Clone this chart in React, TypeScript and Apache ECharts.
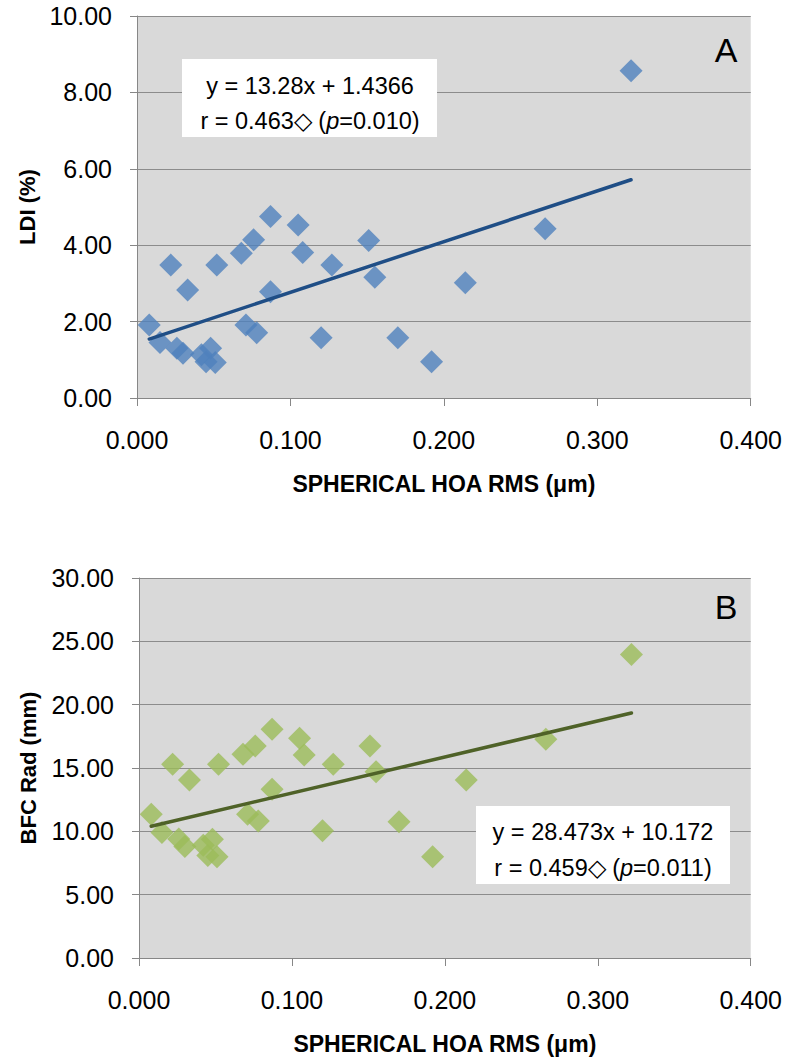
import React, { useEffect, useRef } from "react";
import * as echarts from "echarts";

// Spherical HOA RMS (µm) for each eye
const hoaRms = [
  0.008, 0.015, 0.022, 0.026, 0.030, 0.033, 0.042, 0.045, 0.048, 0.051,
  0.052, 0.068, 0.071, 0.076, 0.078, 0.087, 0.087, 0.105, 0.108, 0.120,
  0.127, 0.151, 0.155, 0.170, 0.192, 0.214, 0.266, 0.322,
];
// Panel A: LDI (%)
const ldiValues = [
  1.91, 1.45, 3.48, 1.30, 1.17, 2.83, 1.13, 0.95, 1.30, 0.93,
  3.48, 3.79, 1.91, 4.14, 1.71, 4.75, 2.78, 4.53, 3.81, 1.58,
  3.48, 4.12, 3.16, 1.58, 0.95, 3.02, 4.43, 8.57,
];
// Panel B: BFC Rad (mm)
const bfcValues = [
  11.35, 9.9, 15.3, 9.4, 8.8, 14.05, 8.9, 8.1, 9.37, 8.0,
  15.3, 16.08, 11.35, 16.74, 10.82, 18.05, 13.32, 17.35, 16.03, 10.05,
  15.29, 16.74, 14.71, 10.76, 8.0, 14.05, 17.26, 23.97,
];
const fitA = { slope: 13.28, intercept: 1.4366 };
const fitB = { slope: 28.473, intercept: 10.172 };
const xTickStep = 0.1;
const yTickStepA = 2;
const yTickStepB = 5;

const FONT = "'Liberation Sans', Arial, sans-serif";

function trend(fit: { slope: number; intercept: number }) {
  const lo = Math.min(...hoaRms);
  const hi = Math.max(...hoaRms);
  return [
    [lo, fit.slope * lo + fit.intercept],
    [hi, fit.slope * hi + fit.intercept],
  ];
}

export default function App() {
  const ref = useRef<HTMLDivElement>(null);
  useEffect(() => {
    document.body.style.margin = "0";
    if (!ref.current) return;
    const chart = echarts.init(ref.current, undefined, { renderer: "svg" });

    const axisGray = "#878787";
    const xAxisBase = (gridIndex: number) => ({
      type: "value",
      gridIndex,
      min: 0,
      max: 0.4,
      interval: xTickStep,
      name: "SPHERICAL HOA RMS (μm)",
      nameLocation: "middle",
      nameGap: 74,
      nameTextStyle: { fontFamily: FONT, fontSize: 23, fontWeight: "bold", color: "#000" },
      axisLine: { show: true, lineStyle: { color: axisGray, width: 1 } },
      axisTick: { show: true, length: 8, lineStyle: { color: axisGray } },
      axisLabel: {
        margin: 29,
        fontFamily: FONT,
        fontSize: 25,
        color: "#000",
        formatter: (v: number) => v.toFixed(3),
      },
      splitLine: { show: false },
    });
    const yAxisBase = (gridIndex: number, max: number, interval: number, name: string, gap: number) => ({
      type: "value",
      gridIndex,
      min: 0,
      max,
      interval,
      name,
      nameLocation: "middle",
      nameGap: gap,
      nameTextStyle: { fontFamily: FONT, fontSize: 22, fontWeight: "bold", color: "#000" },
      axisLine: { show: true, lineStyle: { color: axisGray, width: 1 } },
      axisTick: { show: true, length: 7, lineStyle: { color: axisGray } },
      axisLabel: {
        margin: 25,
        fontFamily: FONT,
        fontSize: 25,
        color: "#000",
        formatter: (v: number) => v.toFixed(2),
      },
      splitLine: { show: true, lineStyle: { color: "#8c8c8c", width: 1 } },
    });

    const rich = {
      a: { fontFamily: FONT, fontSize: 23.5, color: "#000" },
      i: { fontFamily: FONT, fontSize: 23.5, color: "#000", fontStyle: "italic" },
    };

    chart.setOption({
      animation: false,
      grid: [
        { left: 137, top: 16, width: 615, height: 382, show: true, backgroundColor: "#d9d9d9", borderWidth: 0 },
        { left: 139, top: 578, width: 613, height: 380, show: true, backgroundColor: "#d9d9d9", borderWidth: 0 },
      ],
      xAxis: [xAxisBase(0), xAxisBase(1)],
      yAxis: [
        yAxisBase(0, 10, yTickStepA, "LDI (%)", 98),
        yAxisBase(1, 30, yTickStepB, "BFC Rad (mm)", 100),
      ],
      series: [
        {
          type: "scatter",
          xAxisIndex: 0,
          yAxisIndex: 0,
          symbol: "diamond",
          symbolSize: 23,
          itemStyle: { color: "#4f81bd" },
          data: hoaRms.map((x, i) => [x, ldiValues[i]]),
          z: 2,
        },
        {
          type: "line",
          xAxisIndex: 0,
          yAxisIndex: 0,
          symbol: "none",
          lineStyle: { color: "#1f4e86", width: 3.5, cap: "round" },
          data: trend(fitA),
          z: 3,
        },
        {
          type: "scatter",
          xAxisIndex: 1,
          yAxisIndex: 1,
          symbol: "diamond",
          symbolSize: 23,
          itemStyle: { color: "#9bbb59" },
          data: hoaRms.map((x, i) => [x, bfcValues[i]]),
          z: 2,
        },
        {
          type: "line",
          xAxisIndex: 1,
          yAxisIndex: 1,
          symbol: "none",
          lineStyle: { color: "#4f6228", width: 3.5, cap: "round" },
          data: trend(fitB),
          z: 3,
        },
      ],
      graphic: [
        { type: "rect", shape: { x: 182, y: 59, width: 255, height: 78 }, style: { fill: "#fff" }, z: 10 },
        {
          type: "text",
          x: 310,
          y: 86,
          z: 11,
          style: { text: "y = 13.28x + 1.4366", font: `23.5px ${FONT}`, fill: "#000", align: "center", verticalAlign: "middle" },
        },
        {
          type: "text",
          x: 310,
          y: 121,
          z: 11,
          style: {
            text: "{a|r = 0.463◇ (}{i|p}{a|=0.010)}",
            rich,
            align: "center",
            verticalAlign: "middle",
          },
        },
        {
          type: "text",
          x: 726,
          y: 50,
          z: 11,
          style: { text: "A", font: `34px ${FONT}`, fill: "#000", align: "center", verticalAlign: "middle" },
        },
        { type: "rect", shape: { x: 476, y: 806, width: 254, height: 78 }, style: { fill: "#fff" }, z: 10 },
        {
          type: "text",
          x: 603,
          y: 832,
          z: 11,
          style: { text: "y = 28.473x + 10.172", font: `23.5px ${FONT}`, fill: "#000", align: "center", verticalAlign: "middle" },
        },
        {
          type: "text",
          x: 603,
          y: 868,
          z: 11,
          style: {
            text: "{a|r = 0.459◇ (}{i|p}{a|=0.011)}",
            rich,
            align: "center",
            verticalAlign: "middle",
          },
        },
        {
          type: "text",
          x: 726,
          y: 607,
          z: 11,
          style: { text: "B", font: `34px ${FONT}`, fill: "#000", align: "center", verticalAlign: "middle" },
        },
      ],
    });
    return () => chart.dispose();
  }, []);
  return <div ref={ref} style={{ width: 785, height: 1059 }} />;
}
